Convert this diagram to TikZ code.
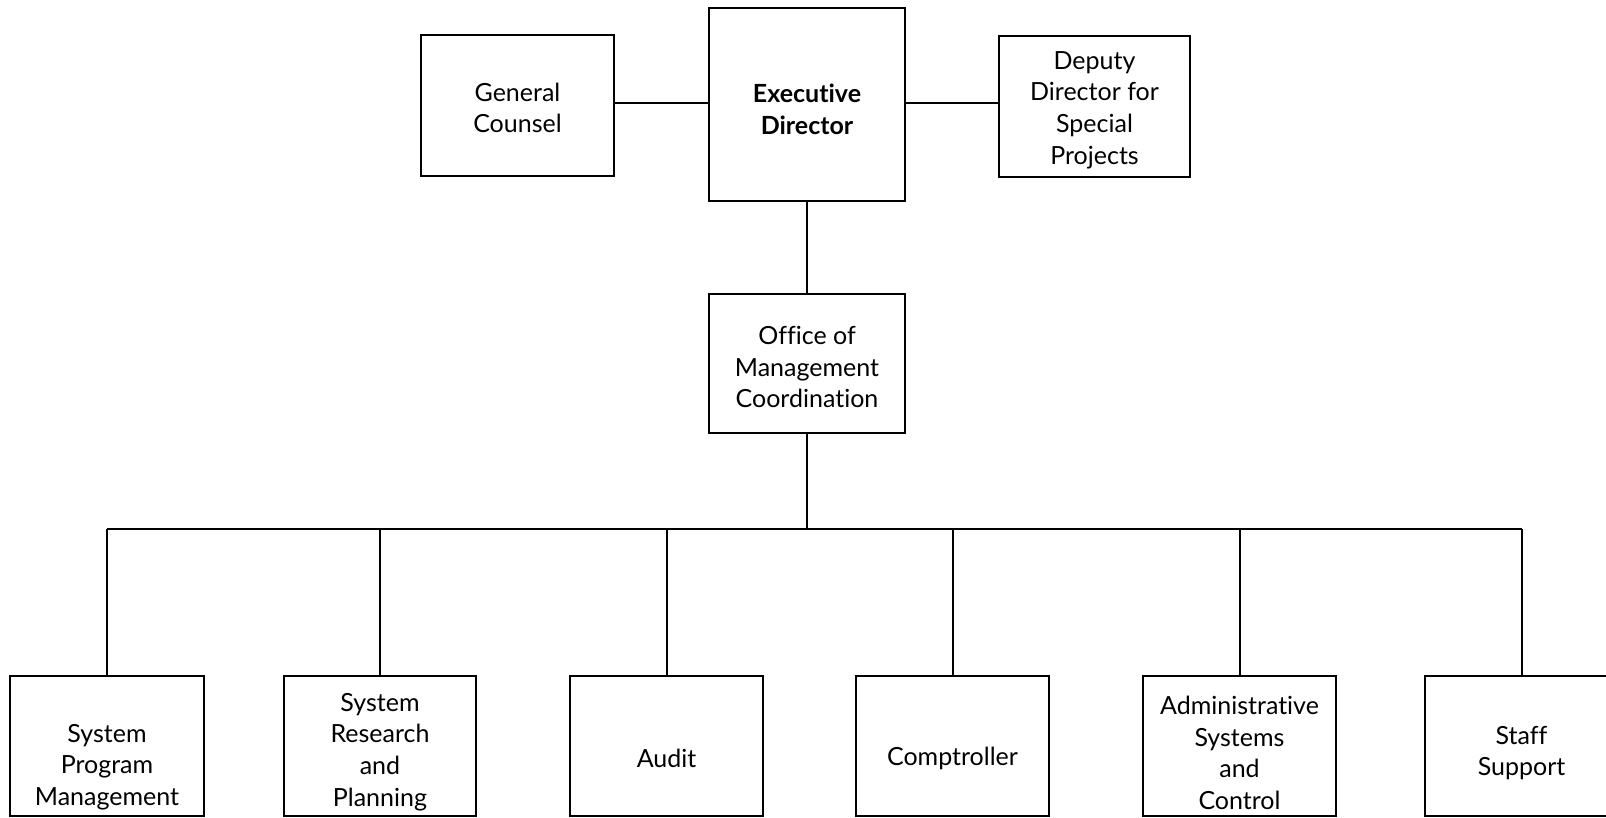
\documentclass[tikz,border=0pt]{standalone}
\usepackage{fontspec}
\setmainfont{Lato}[Ligatures=NoCommon]
\begin{document}
\begin{tikzpicture}[x=1pt,y=-1pt,
  box/.style={draw, line width=2pt, inner sep=0pt, rectangle},
  lbl/.style={align=center, font=\fontsize{25}{31.7}\selectfont, inner sep=0pt},
  conn/.style={line width=2pt}]
\useasboundingbox (0,0) rectangle (1606,818);
\clip (0,0) rectangle (1606,818);
% top row
\node[box, minimum width=193pt, minimum height=141pt] (gc) at (517.5,105.5) {};
\node[box, minimum width=196pt, minimum height=193pt] (ed) at (807,104.5) {};
\node[box, minimum width=191pt, minimum height=141pt] (dd) at (1094.5,106.5) {};
\node[box, minimum width=196pt, minimum height=139pt] (omc) at (807,363.5) {};
% bottom row
\node[box, minimum width=194pt, minimum height=140pt] (spm) at (107,746) {};
\node[box, minimum width=192pt, minimum height=140pt] (srp) at (380,746) {};
\node[box, minimum width=193pt, minimum height=140pt] (aud) at (666.5,746) {};
\node[box, minimum width=193pt, minimum height=140pt] (cmp) at (952.5,746) {};
\node[box, minimum width=193pt, minimum height=140pt] (asc) at (1239.5,746) {};
\node[box, minimum width=193pt, minimum height=140pt] (stf) at (1521.5,746) {};
% labels
\node[lbl] (tgc) at (517.5,108) {General\\Counsel};
\node[lbl, font=\fontsize{25}{31.7}\selectfont\bfseries] (ted) at (807,109) {Executive\\Director};
\node[lbl] (tdd) at (1094.5,110) {Deputy\\Director for\\Special\\Projects};
\node[lbl] (tomc) at (807,367) {Office of\\Management\\Coordination};
\node[lbl] (tspm) at (107,767) {System\\Program\\Management};
\node[lbl] (tsrp) at (380,752) {System\\Research\\and\\Planning};
\node[lbl] (taud) at (666.5,758) {Audit};
\node[lbl] (tcmp) at (952.5,758) {Comptroller};
\node[lbl] (tasc) at (1239.5,753) {Administrative\\Systems\\and\\Control};
\node[lbl] (tstf) at (1521.5,753) {Staff\\Support};
% connectors
\coordinate (lvl) at (807,103);
\draw[conn] (gc.east |- lvl) -- (ed.west |- lvl);
\draw[conn] (ed.east |- lvl) -- (dd.west |- lvl);
\draw[conn] (ed.south) -- (omc.north);
\coordinate (bus) at (807,529);
\draw[conn] (omc.south) -- (omc.south |- bus);
\draw[conn] (spm.north |- bus) -- (stf.north |- bus);
\foreach \b in {spm,srp,aud,cmp,asc,stf}{
  \draw[conn] (\b.north |- bus) -- (\b.north);
}
\end{tikzpicture}
\end{document}
